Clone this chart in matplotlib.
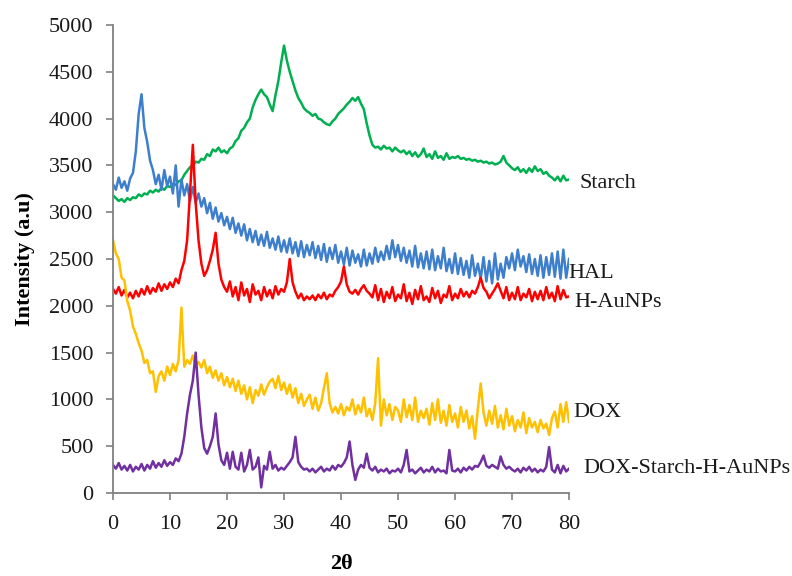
import numpy as np
import matplotlib
matplotlib.use("Agg")
import matplotlib.pyplot as plt

# 2-theta grid, 0.5 degree steps (161 points)
two_theta = np.linspace(0, 80, 161)

# intensities, one row = 5 degrees
starch = [
    3180, 3150, 3120, 3140, 3110, 3150, 3130, 3160, 3150, 3190,
    3170, 3200, 3190, 3230, 3210, 3240, 3220, 3260, 3240, 3280,
    3270, 3300, 3290, 3330, 3340, 3400, 3440, 3480, 3500, 3540,
    3530, 3570, 3560, 3620, 3600, 3670, 3650, 3690, 3640, 3660,
    3630, 3680, 3700, 3760, 3790, 3870, 3900, 3960, 4000, 4120,
    4200, 4260, 4310, 4260, 4230, 4150, 4080, 4250, 4400, 4600,
    4780, 4620, 4500, 4400, 4300, 4220, 4170, 4110, 4080, 4060,
    4030, 4050, 4000, 3990, 3960, 3940, 3930, 3970, 4000, 4050,
    4080, 4110, 4150, 4180, 4220, 4190, 4230, 4160, 4100, 3950,
    3820, 3720, 3690, 3700, 3670, 3710, 3680, 3690, 3650, 3690,
    3660, 3640, 3660, 3620, 3650, 3600, 3640, 3590, 3620, 3680,
    3590, 3620, 3570, 3650, 3580, 3600, 3560, 3630, 3570, 3590,
    3580, 3600, 3570, 3580, 3560, 3570, 3550, 3560, 3540, 3550,
    3530, 3540, 3520, 3530, 3510, 3520, 3540, 3600, 3530, 3500,
    3470, 3450, 3480, 3430, 3460, 3420, 3470, 3430, 3490, 3440,
    3460, 3410, 3430, 3390, 3370, 3340, 3380, 3330, 3390, 3340,
    3350,
]

hal = [
    3300, 3240, 3370, 3260, 3330, 3230, 3360, 3420, 3650, 4050,
    4260, 3900, 3750, 3550, 3450, 3300, 3400, 3240, 3450, 3280,
    3380, 3200, 3500, 3060, 3350, 3180, 3300, 3120, 3270, 3100,
    3200, 3060, 3150, 2990, 3100, 2930, 3050, 2900, 2990, 2860,
    2950, 2820, 2940, 2780, 2880, 2750, 2870, 2700, 2820, 2680,
    2800, 2650, 2760, 2640, 2790, 2620, 2720, 2600, 2740, 2580,
    2700, 2570, 2720, 2560, 2680, 2530, 2690, 2520, 2650, 2540,
    2680, 2510, 2640, 2490, 2660, 2470, 2620, 2500, 2650, 2460,
    2580, 2440, 2620, 2430, 2590, 2460, 2550, 2420, 2600, 2430,
    2560, 2450, 2620, 2470, 2580, 2490, 2640, 2500, 2700, 2520,
    2650, 2480, 2620, 2460, 2590, 2420, 2640, 2410, 2560, 2400,
    2580, 2390, 2600, 2380, 2530, 2400, 2620, 2370, 2500, 2350,
    2560, 2340, 2510, 2330, 2480, 2300, 2540, 2320, 2450, 2290,
    2520, 2260, 2480, 2240, 2560, 2280, 2450, 2300, 2520, 2400,
    2560, 2380, 2600, 2420, 2530, 2360, 2550, 2340, 2500, 2320,
    2540, 2300, 2520, 2330, 2560, 2310, 2580, 2290, 2600, 2300,
    2500,
]

h_aunps = [
    2180, 2130, 2200, 2110, 2170, 2090, 2140, 2080, 2160, 2100,
    2180, 2120, 2210, 2130, 2190, 2150, 2240, 2160, 2230, 2180,
    2250, 2200, 2290, 2240, 2380, 2480, 2700, 3200, 3720, 3100,
    2700, 2450, 2320, 2380, 2480, 2600, 2780, 2450, 2280, 2200,
    2150, 2260, 2100, 2200, 2060, 2250, 2110, 2180, 2040, 2230,
    2120, 2160, 2060, 2200, 2100, 2170, 2080, 2210, 2120, 2180,
    2150, 2250, 2500, 2250, 2150, 2080, 2130, 2060, 2100, 2070,
    2110, 2060, 2120, 2080, 2140, 2070, 2120, 2100, 2160, 2200,
    2260, 2420, 2230, 2150, 2130, 2170, 2120, 2180, 2220, 2160,
    2130, 2090, 2220, 2060, 2180, 2040, 2150, 2080, 2200, 2050,
    2120, 2080, 2230, 2050, 2140, 2020, 2170, 2070, 2210, 2060,
    2100, 2040, 2190, 2080, 2160, 2030, 2120, 2090, 2210, 2060,
    2130, 2080, 2180, 2100, 2150, 2090, 2160, 2130, 2200, 2300,
    2190, 2150, 2080, 2130, 2180, 2240, 2160, 2080, 2200, 2060,
    2140, 2070, 2200, 2060, 2130, 2090, 2180, 2050, 2150, 2070,
    2160, 2060, 2200, 2080, 2140, 2050, 2210, 2070, 2170, 2090,
    2100,
]

dox = [
    2700, 2560, 2500, 2300, 2270, 2050, 1950, 1780, 1700, 1600,
    1520, 1390, 1420, 1280, 1300, 1080, 1250, 1300, 1200, 1350,
    1260, 1380, 1300, 1420, 1980, 1350, 1420, 1380, 1470, 1360,
    1400, 1340, 1420, 1280, 1350, 1230, 1310, 1200, 1280, 1150,
    1240, 1130, 1220, 1090, 1200, 1060, 1150, 1000, 1130, 960,
    1100, 1040, 1160, 1050, 1130, 1190, 1220, 1120, 1250, 1100,
    1180, 1060, 1160, 1020, 1120, 960, 1060, 930, 1000, 1050,
    900, 1020, 880, 960, 1120, 1280, 960, 860, 920, 850,
    950, 830, 920, 880, 1000, 840, 940, 860, 1020, 820,
    900, 780, 960, 1440, 720, 1000, 830, 950, 780, 920,
    880, 760, 1000, 810, 940, 780, 1020, 760, 880, 800,
    900, 730, 960, 780, 1000, 750, 880, 720, 940, 760,
    850, 700, 920, 760, 880, 690, 820, 580, 900, 1170,
    860, 720, 880, 740, 930, 700, 830, 680, 900, 720,
    820, 660, 780, 700, 860, 640, 800, 700, 760, 650,
    780, 690, 740, 620, 800, 870, 700, 950, 760, 970,
    760,
]

dox_starch_h_aunps = [
    300, 260, 320, 250, 290, 240, 300, 230, 280, 250,
    310, 240, 300, 260, 340, 270, 320, 280, 350, 290,
    330, 300, 370, 340, 420, 600, 850, 1050, 1200, 1500,
    1050, 700, 480, 420, 500, 600, 850, 520, 350, 300,
    430, 260, 440, 280, 250, 430, 230, 300, 460, 250,
    280, 380, 60, 290, 250, 440, 260, 300, 240, 270,
    250, 290, 330, 380, 600, 330, 280, 250, 260, 230,
    260, 220, 250, 280, 230, 260, 240, 290, 250, 300,
    280, 320, 380, 550, 300, 140, 250, 300, 270, 420,
    270, 240, 280, 220, 250, 230, 260, 210, 240, 230,
    260, 220, 300, 460, 230, 250, 210, 240, 270, 220,
    250, 230, 280, 220, 260, 230, 240, 210, 460, 240,
    230, 260, 220, 270, 240, 280, 250, 290, 280, 330,
    400, 290, 270, 300, 280, 260, 390, 300, 260, 280,
    250, 230, 260, 220, 270, 240, 280, 230, 260, 220,
    250, 230, 280, 490, 250, 220, 300, 210, 290, 230,
    260,
]

series = [
    ("Starch", starch, "#00B050", (81.9, 3310)),
    ("HAL", hal, "#3D7FCC", (79.8, 2350)),
    ("H-AuNPs", h_aunps, "#FF0000", (80.9, 2040)),
    ("DOX", dox, "#FFC000", (80.7, 855)),
    ("DOX-Starch-H-AuNPs", dox_starch_h_aunps, "#7030A0", (82.5, 267)),
]

plt.rcParams["font.family"] = ["Liberation Serif", "DejaVu Serif"]

fig = plt.figure(figsize=(7.92, 5.76), dpi=100)
ax = fig.add_axes([0.1427, 0.1441, 0.5758, 0.8125])

for name, vals, color, (tx, ty) in series:
    ax.plot(two_theta, vals, color=color, lw=1.8)
    ax.text(tx, ty, name, fontsize=16, color="#1a1a1a", va="center", ha="left", clip_on=False)

ax.set_xlim(0, 80)
ax.set_ylim(0, 5000)
ax.set_xticks(np.arange(0, 81, 10))
ax.set_yticks(np.arange(0, 5001, 500))

for side in ["top", "right"]:
    ax.spines[side].set_visible(False)
for side in ["left", "bottom"]:
    ax.spines[side].set_color("#808080")
    ax.spines[side].set_linewidth(1.3)

ax.tick_params(axis="both", direction="out", length=5, width=1.2, color="#808080",
               labelsize=16, labelcolor="#1a1a1a")
ax.tick_params(axis="y", pad=9)
ax.tick_params(axis="x", pad=11)

ax.set_xlabel("2θ", fontsize=16, fontweight="bold", labelpad=14)
ax.set_ylabel("Intensity (a.u)", fontsize=16, fontweight="bold", labelpad=10)

fig.savefig("out.png", dpi=100)
